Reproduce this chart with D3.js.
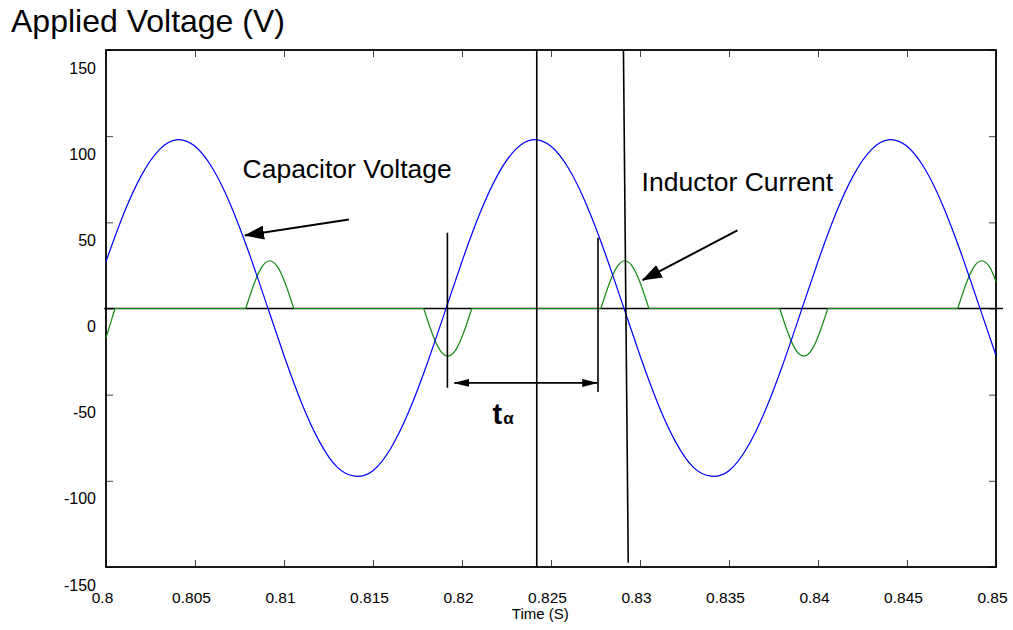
<!DOCTYPE html>
<html>
<head>
<meta charset="utf-8">
<script src="https://cdn.jsdelivr.net/npm/d3@7"></script>
<style>
body { margin: 0; background: #fff; }
svg { font-family: "Liberation Sans", Arial, sans-serif; display: block; }
</style>
</head>
<body>
<svg id="chart"></svg>
<script>
var width = 1013;
var height = 630;
var margin = {top: 50, right: 17, bottom: 63, left: 106};

// axis ticks
var xTicks = [0.8, 0.805, 0.81, 0.815, 0.82, 0.825, 0.83, 0.835, 0.84, 0.845, 0.85];
var yTicks = [-150, -100, -50, 0, 50, 100, 150];

// capacitor voltage, sampled every 1 ms from 0.8 s
var capStart = 0.8, capStep = 0.001;
var capVoltage = [
  27.3, 55.1, 77.4, 92.2, 98.0, 94.1, 81.1, 60.1, 33.2, 3.1,
  -27.3, -55.1, -77.4, -92.2, -97.3, -94.1, -81.1, -60.1, -33.2, -3.1,
  27.3, 55.1, 77.4, 92.2, 98.0, 94.1, 81.1, 60.1, 33.2, 3.1,
  -27.3, -55.1, -77.4, -92.2, -97.3, -94.1, -81.1, -60.1, -33.2, -3.1,
  27.3, 55.1, 77.4, 92.2, 98.0, 94.1, 81.1, 60.1, 33.2, 3.1,
  -27.3
];

// inductor current (zero between conduction pulses)
var indTime = [
  0.8, 0.8003, 0.8005,
  0.80785, 0.8083, 0.80875, 0.8092, 0.80965, 0.8101, 0.81055,
  0.81785, 0.8183, 0.81875, 0.8192, 0.81965, 0.8201, 0.82055,
  0.8278, 0.82825, 0.8287, 0.82915, 0.8296, 0.83005, 0.8305,
  0.83785, 0.8383, 0.83875, 0.8392, 0.83965, 0.8401, 0.84055,
  0.84785, 0.8483, 0.84875, 0.8492, 0.84965, 0.85
];
var indCurrent = [
  -17, -7, 0,
  0, 13.8, 24, 27.7, 24, 13.8, 0,
  0, -13.8, -24, -27.6, -24, -13.8, 0,
  0, 13.8, 24, 27.7, 24, 13.8, 0,
  0, -13.8, -24, -27.6, -24, -13.8, 0,
  0, 13.8, 24, 27.7, 24, 15.5
];

// marker lines drawn on the plot (time, value)
var markerLines = [
  {t1: 0.8242, v1: 150, t2: 0.8242, v2: -150},
  {t1: 0.82907, v1: 150, t2: 0.82934, v2: -147.5},
  {t1: 0.81918, v1: 44, t2: 0.81918, v2: -46},
  {t1: 0.82764, v1: 41, t2: 0.82764, v2: -48.5}
];
var spanArrow = {t1: 0.81957, t2: 0.8276, v: -43.2};
var callouts = [
  {text: "Capacitor Voltage", tx: 0.80767, tv: 75.6, t1: 0.81365, v1: 51.7, t2: 0.80781, v2: 42.4},
  {text: "Inductor Current", tx: 0.83009, tv: 68.2, t1: 0.83547, v1: 45.3, t2: 0.83015, v2: 16.5}
];
var spanLabel = {t: 0.82172, v: -66.9};

var svg = d3.select("#chart").attr("width", width).attr("height", height);

var x = d3.scaleLinear().domain([0.8, 0.85]).range([margin.left, width - margin.right]);
var y = d3.scaleLinear().domain([-150, 150]).range([height - margin.bottom, margin.top]);

var defs = svg.append("defs");
defs.append("marker")
    .attr("id", "bigHead")
    .attr("viewBox", "0 -7 20 14")
    .attr("refX", 19).attr("refY", 0)
    .attr("markerWidth", 20).attr("markerHeight", 14)
    .attr("markerUnits", "userSpaceOnUse")
    .attr("orient", "auto")
  .append("path").attr("d", "M0,-7L20,0L0,7Z").attr("fill", "#000");
defs.append("marker")
    .attr("id", "smallHead")
    .attr("viewBox", "0 -4 16 8")
    .attr("refX", 15).attr("refY", 0)
    .attr("markerWidth", 16).attr("markerHeight", 8)
    .attr("markerUnits", "userSpaceOnUse")
    .attr("orient", "auto-start-reverse")
  .append("path").attr("d", "M0,-4L16,0L0,4Z").attr("fill", "#000");

// title
svg.append("text")
    .attr("x", 11).attr("y", 32)
    .style("font-size", "32px")
    .text("Applied Voltage (V)");

// axes (ticks point inward)
var tickColor = "#444";
var plain = function(d) { return String(d); };
var gBottom = svg.append("g")
    .attr("transform", "translate(0," + y(-150) + ")")
    .call(d3.axisBottom(x).tickValues(xTicks).tickSize(-7).tickFormat(plain));
gBottom.selectAll("text").attr("y", 36).attr("dy", 0).attr("dx", -4)
    .style("font-size", "15.5px").attr("fill", "#000");
var gTop = svg.append("g")
    .attr("transform", "translate(0," + y(150) + ")")
    .call(d3.axisTop(x).tickValues(xTicks).tickSize(-7).tickFormat(""));
var gLeft = svg.append("g")
    .attr("transform", "translate(" + x(0.8) + ",0)")
    .call(d3.axisLeft(y).tickValues(yTicks).tickSize(-7).tickPadding(10).tickFormat(plain));
gLeft.selectAll("text").attr("y", 23).attr("dy", 0)
    .style("font-size", "16px").attr("fill", "#000");
var gRight = svg.append("g")
    .attr("transform", "translate(" + x(0.85) + ",0)")
    .call(d3.axisRight(y).tickValues(yTicks).tickSize(-7).tickFormat(""));
[gBottom, gTop, gLeft, gRight].forEach(function(g) {
  g.select(".domain").remove();
  g.selectAll("line").attr("stroke", tickColor);
  g.attr("font-family", null).attr("font-size", null);
});

// frame
svg.append("rect")
    .attr("x", x(0.8)).attr("y", y(150))
    .attr("width", x(0.85) - x(0.8)).attr("height", y(-150) - y(150))
    .attr("fill", "none").attr("stroke", "#000").attr("stroke-width", 1.8);

// zero line
svg.append("line")
    .attr("x1", x(0.7999)).attr("x2", x(0.85039))
    .attr("y1", y(0)).attr("y2", y(0))
    .attr("stroke", "#000").attr("stroke-width", 1.3);

// inductor current, split into runs between zero points
var indPts = indTime.map(function(t, i) { return {t: t, v: indCurrent[i]}; });
var runs = [];
var cur = [indPts[0]];
for (var i = 1; i < indPts.length; i++) {
  cur.push(indPts[i]);
  if (indPts[i].v === 0) { runs.push(cur); cur = [indPts[i]]; }
}
if (cur.length > 1) runs.push(cur);

var line = d3.line()
    .x(function(d) { return x(d.t); })
    .y(function(d) { return y(d.v); })
    .curve(d3.curveNatural);

svg.append("g").selectAll("path")
    .data(runs)
    .enter().append("path")
    .attr("d", line)
    .attr("fill", "none")
    .attr("stroke", "#138a13")
    .attr("stroke-width", 1.2);

// capacitor voltage
var capPts = capVoltage.map(function(v, i) { return {t: capStart + i * capStep, v: v}; });
svg.append("path")
    .datum(capPts)
    .attr("d", line)
    .attr("fill", "none")
    .attr("stroke", "#0000ff")
    .attr("stroke-width", 1.2);

// marker lines
svg.append("g").selectAll("line")
    .data(markerLines)
    .enter().append("line")
    .attr("x1", function(d) { return x(d.t1); })
    .attr("y1", function(d) { return y(d.v1); })
    .attr("x2", function(d) { return x(d.t2); })
    .attr("y2", function(d) { return y(d.v2); })
    .attr("stroke", "#000")
    .attr("stroke-width", 1.6);

// t-alpha span
svg.append("line")
    .attr("x1", x(spanArrow.t1)).attr("x2", x(spanArrow.t2))
    .attr("y1", y(spanArrow.v)).attr("y2", y(spanArrow.v))
    .attr("stroke", "#000").attr("stroke-width", 1.8)
    .attr("marker-start", "url(#smallHead)")
    .attr("marker-end", "url(#smallHead)");
var lbl = svg.append("text")
    .attr("x", x(spanLabel.t)).attr("y", y(spanLabel.v));
lbl.append("tspan").style("font-size", "29px").style("font-weight", "bold").text("t");
lbl.append("tspan").style("font-size", "17px").style("font-weight", "bold").attr("dx", 1).text("α");

// callouts
var co = svg.append("g").selectAll("g")
    .data(callouts)
    .enter().append("g");
co.append("text")
    .attr("x", function(d) { return x(d.tx); })
    .attr("y", function(d) { return y(d.tv); })
    .style("font-size", "26.5px")
    .text(function(d) { return d.text; });
co.append("line")
    .attr("x1", function(d) { return x(d.t1); })
    .attr("y1", function(d) { return y(d.v1); })
    .attr("x2", function(d) { return x(d.t2); })
    .attr("y2", function(d) { return y(d.v2); })
    .attr("stroke", "#000")
    .attr("stroke-width", 2)
    .attr("marker-end", "url(#bigHead)");

// x axis title
svg.append("text")
    .attr("x", x(0.8244)).attr("y", 619)
    .attr("text-anchor", "middle")
    .style("font-size", "15px")
    .text("Time (S)");
</script>
</body>
</html>
